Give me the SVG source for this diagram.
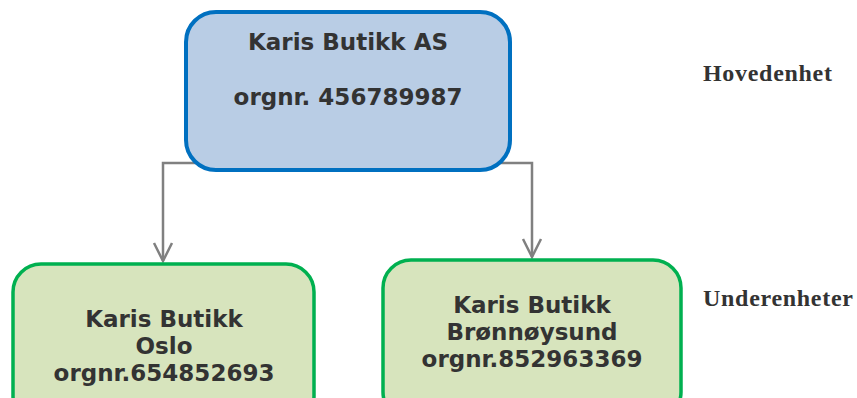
<svg xmlns="http://www.w3.org/2000/svg" width="857" height="398" viewBox="0 0 857 398">
<defs>
<style>
.main{fill:#B9CDE5;stroke:#0070C0;stroke-width:4}
.sub{fill:#D7E4BD;stroke:#00B050;stroke-width:3.5}
.t{font-family:"DejaVu Sans",sans-serif;font-weight:bold;font-size:23px;fill:#333333;text-anchor:middle}
.lbl{font-family:"Liberation Serif",serif;font-weight:bold;font-size:24px;fill:#333333;letter-spacing:0.7px}
.conn{fill:none;stroke:#808080;stroke-width:2.5}
.head{fill:none;stroke:#808080;stroke-width:2.5;stroke-linejoin:miter}
</style>
</defs>
<rect width="857" height="398" fill="#FFFFFF"/>
<g id="connectors">
<path class="conn" d="M200,163 H163 V261"/>
<path class="head" d="M154,243 L163,261 L172,243"/>
<path class="conn" d="M496,163 H532 V257"/>
<path class="head" d="M523,239 L532,257 L541,239"/>
</g>
<g id="hovedenhet-node">
<rect class="main" x="186" y="12" width="324" height="158" rx="30"/>
<text class="t" x="348" y="50">Karis Butikk AS</text>
<text class="t" x="348" y="105">orgnr. 456789987</text>
</g>
<g id="oslo-node">
<rect class="sub" x="13" y="264" width="301" height="160" rx="28"/>
<text class="t" x="164" y="327">Karis Butikk</text>
<text class="t" x="164" y="354">Oslo</text>
<text class="t" x="164" y="381">orgnr.654852693</text>
</g>
<g id="bronnoysund-node">
<rect class="sub" x="383" y="260" width="298" height="160" rx="28"/>
<text class="t" x="532" y="313">Karis Butikk</text>
<text class="t" x="532" y="340">Brønnøysund</text>
<text class="t" x="532" y="367">orgnr.852963369</text>
</g>
<g id="labels">
<text class="lbl" x="703" y="81">Hovedenhet</text>
<text class="lbl" x="703" y="306">Underenheter</text>
</g>
</svg>
